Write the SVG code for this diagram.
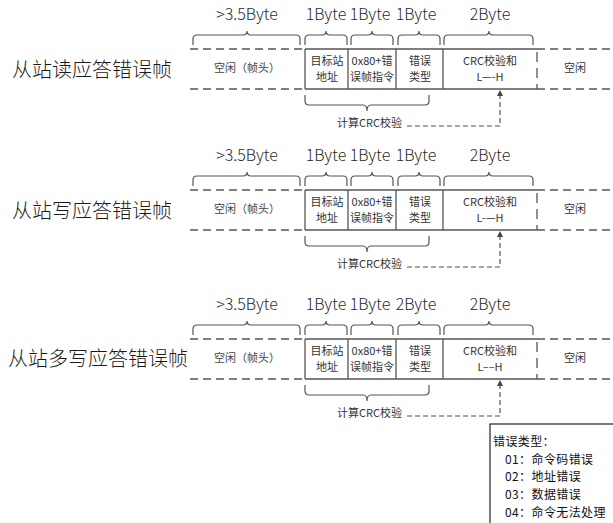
<svg xmlns="http://www.w3.org/2000/svg" width="613" height="523" viewBox="0 0 613 523">
<defs>
<style>
text{font-family:"Noto Sans CJK SC","Noto Sans",sans-serif;}
.title{font-size:20px;fill:#1a1a1a;font-weight:300;}
.byte{font-size:16px;fill:#2a2a2a;text-anchor:middle;font-weight:300;}
.cell{font-size:11px;fill:#333;text-anchor:middle;}
.calc{font-size:11px;fill:#333;}
.legend{font-size:12px;fill:#111;letter-spacing:0.4px;}
.solid{stroke:#555;stroke-width:1.3;fill:none;}
.dash{stroke:#555;stroke-width:1.3;fill:none;stroke-dasharray:8 5;}
.brace{stroke:#555;stroke-width:1.2;fill:none;}
.adash{stroke:#555;stroke-width:1.2;fill:none;stroke-dasharray:5 3;}
</style>
<marker id="arr" markerWidth="6" markerHeight="6" refX="3" refY="3" orient="auto" markerUnits="userSpaceOnUse">
<path d="M0,0 L6,3 L0,6 z" fill="#444"/>
</marker>
<g id="frame">
<text class="byte" x="247" y="20">&gt;3.5Byte</text>
<path class="brace" d="M193,45 L193,39 Q193,35 197,35 L243,35 Q247,35 247,31 Q247,35 251,35 L296,35 Q300,35 300,39 L300,45"/>
<path class="brace" d="M305,45 L305,39 Q305,35 309,35 L322,35 Q326,35 326,31 Q326,35 330,35 L343,35 Q347,35 347,39 L347,45"/>
<path class="brace" d="M351,45 L351,39 Q351,35 355,35 L368,35 Q372,35 372,31 Q372,35 376,35 L389,35 Q393,35 393,39 L393,45"/>
<path class="brace" d="M398,45 L398,39 Q398,35 402,35 L415,35 Q419,35 419,31 Q419,35 423,35 L436,35 Q440,35 440,39 L440,45"/>
<path class="brace" d="M444,45 L444,39 Q444,35 448,35 L485,35 Q489,35 489,31 Q489,35 493,35 L529,35 Q533,35 533,39 L533,45"/>
<line class="dash" x1="190" y1="49" x2="305" y2="49"/>
<line class="dash" x1="190" y1="89" x2="305" y2="89"/>
<line class="solid" x1="305" y1="49" x2="537" y2="49"/>
<line class="solid" x1="305" y1="89" x2="537" y2="89"/>
<line class="dash" x1="537" y1="49" x2="613" y2="49"/>
<line class="dash" x1="537" y1="89" x2="613" y2="89"/>
<line class="solid" x1="305" y1="49" x2="305" y2="89"/>
<line class="solid" x1="348" y1="49" x2="348" y2="89"/>
<line class="solid" x1="396" y1="49" x2="396" y2="89"/>
<line class="solid" x1="443" y1="49" x2="443" y2="89"/>
<line class="dash" x1="537" y1="52" x2="537" y2="89" style="stroke-dasharray:10 6"/>
<text class="cell" x="247" y="72" style="fill:#444">空闲（帧头）</text>
<text class="cell" x="327" y="65">目标站</text>
<text class="cell" x="327" y="81">地址</text>
<text class="cell" x="372" y="65">0x80+错</text>
<text class="cell" x="372" y="81">误帧指令</text>
<text class="cell" x="420" y="65">错误</text>
<text class="cell" x="420" y="81">类型</text>
<text class="cell" x="490" y="65">CRC校验和</text>
<text class="cell" x="575" y="72">空闲</text>
<path class="brace" d="M305,95 L305,101 Q305,105 309,105 L363,105 Q367,105 367,111 Q367,105 371,105 L425,105 Q429,105 429,101 L429,95"/>
<text class="calc" x="337" y="127">计算CRC校验</text>
<path class="adash" d="M407,126 L500,126 L500,93" marker-end="url(#arr)"/>
</g>
</defs>
<g id="frame1">
<text class="title" x="12" y="77">从站读应答错误帧</text>
<use href="#frame"/>
<text class="byte" x="326" y="20">1Byte</text>
<text class="byte" x="370" y="20">1Byte</text>
<text class="byte" x="416" y="20">1Byte</text>
<text class="byte" x="490" y="20">2Byte</text>
<text class="cell" x="490" y="81">L—-H</text>
</g>
<g id="frame2">
<text class="title" x="12" y="218">从站写应答错误帧</text>
<use href="#frame" y="141"/>
<text class="byte" x="326" y="161">1Byte</text>
<text class="byte" x="370" y="161">1Byte</text>
<text class="byte" x="416" y="161">1Byte</text>
<text class="byte" x="490" y="161">2Byte</text>
<text class="cell" x="490" y="222">L-—H</text>
</g>
<g id="frame3">
<text class="title" x="8" y="366">从站多写应答错误帧</text>
<use href="#frame" y="290"/>
<text class="byte" x="326" y="310">1Byte</text>
<text class="byte" x="370" y="310">1Byte</text>
<text class="byte" x="416" y="310">2Byte</text>
<text class="byte" x="490" y="310">2Byte</text>
<text class="cell" x="490" y="371">L––H</text>
</g>
<g id="legend">
<rect x="490" y="424" width="200" height="200" fill="#fff" stroke="#222" stroke-width="1.2"/>
<text class="legend" x="493" y="446">错误类型：</text>
<text class="legend" x="505" y="464">01：命令码错误</text>
<text class="legend" x="505" y="481">02：地址错误</text>
<text class="legend" x="505" y="499">03：数据错误</text>
<text class="legend" x="505" y="517">04：命令无法处理</text>
</g>
</svg>
